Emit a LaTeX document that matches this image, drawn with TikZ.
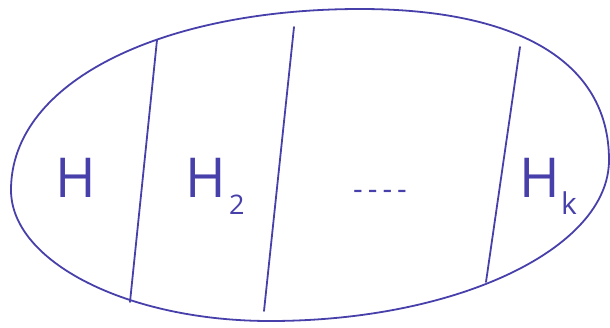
\documentclass[tikz,border=0pt]{standalone}
\usepackage{fontspec}
\setsansfont{Open Sans}
\definecolor{pen}{RGB}{72,64,170}
\begin{document}
\begin{tikzpicture}[x=1pt,y=-1pt,
  pen/.style={draw=pen,line width=1.8pt,line cap=round,line join=round},
  lbl/.style={text=pen,font=\sffamily\fontsize{55}{58}\selectfont,inner sep=0pt,anchor=base west},
  sub/.style={text=pen,font=\sffamily\fontsize{27}{30}\selectfont,inner sep=0pt,anchor=base west}]
\useasboundingbox (0,0) rectangle (610,327);
\coordinate (T) at (360,9);
\coordinate (R) at (609,160);
\coordinate (B) at (270,321);
\coordinate (L) at (11,190);
\draw[pen] (T) .. controls (515,9) and (609,60) .. (R)
  .. controls (609,249) and (456,321) .. (B)
  .. controls (128,321) and (11,262) .. (L)
  .. controls (11,80) and (165,9) .. (T) -- cycle;
\coordinate (a1) at (157,40); \coordinate (a2) at (130,302);
\coordinate (b1) at (294,27); \coordinate (b2) at (264,311);
\coordinate (c1) at (520,47); \coordinate (c2) at (486,282);
\draw[pen] (a1) -- (a2);
\draw[pen] (b1) -- (b2);
\draw[pen] (c1) -- (c2);
\node[lbl] (h1) at (55,197) {H};
\node[lbl] (h2) at (185,197) {H};
\node[sub] (s2) at (229,214) {2};
\node[lbl] (dots) at (353,199) {\fontsize{30}{30}\selectfont -\,-\,-\,-};
\node[lbl] (hk) at (519,197) {H};
\node[sub,font=\sffamily\fontsize{30}{32}\selectfont] (sk) at (561,214) {k};
\end{tikzpicture}
\end{document}
